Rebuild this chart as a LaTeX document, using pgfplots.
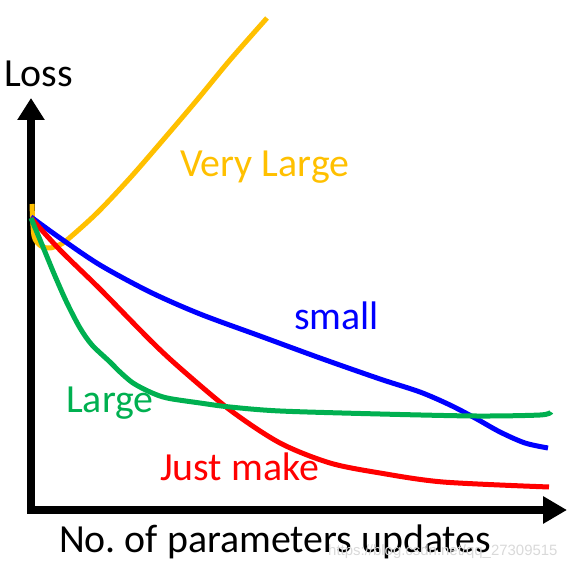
\documentclass[border=0pt]{standalone}
\usepackage{pgfplots}
\pgfplotsset{compat=1.18}
\usepackage{fontspec}
\setmainfont{Carlito}
\newfontfamily\wmfont{Liberation Sans}
\usetikzlibrary{arrows.meta}
\definecolor{cyel}{HTML}{FFC000}
\definecolor{cblue}{HTML}{0000FF}
\definecolor{cgreen}{HTML}{00B050}
\definecolor{cred}{HTML}{FF0000}
\frenchspacing
\begin{document}
\begin{tikzpicture}
\begin{axis}[
  hide axis, scale only axis,
  width=576bp, height=570bp,
  xmin=0, xmax=576, ymin=0, ymax=570, y dir=reverse,
  clip=false,
]
\path (axis cs:0,0) rectangle (axis cs:576,570);
% axes
\draw[line width=8bp, line join=miter, {Triangle[width=26bp,length=24bp]}-{Triangle[width=26bp,length=22bp]}]
  (axis cs:567,510) -- (axis cs:31,510) -- (axis cs:31,98);
% Very Large
\addplot[cyel, line width=5bp, smooth, tension=0.5] coordinates {
 (32,204)(34,236)(41,246)(50,248)(59,245)(67,240)(97,213)(130,178)(163,140)(197,100)(230,60)(267,18)};
% small
\addplot[cblue, line width=5bp, smooth, tension=0.5] coordinates {
 (31,217)(60,238)(100,265)(150,292)(200,314)(260,336)(320,358)(380,379)(420,392)(450,405)(475,418)(500,432)(525,443)(548,448)};
% Just make
\addplot[cred, line width=5bp, smooth, tension=0.5] coordinates {
 (31,218)(60,250)(100,289)(150,340)(180,368)(230,410)(280,443)(330,463)(380,473)(443,482)(549,487)};
% Large
\addplot[cgreen, line width=5bp, smooth, tension=0.5] coordinates {
 (31,218)(43,247)(55,276)(67,303)(80,328)(92,345)(110,362)(120,372)(133,383)(150,392)(167,398)(200,403)(230,407)(280,411)(380,414)(476,416)(540,415)(551,412)};
% labels
\node[anchor=base west, inner sep=0pt, font=\fontsize{40}{46}\selectfont] at (axis cs:4,87) {Loss};
\node[anchor=base west, inner sep=0pt, font=\fontsize{40}{46}\selectfont] at (axis cs:59,553) {No. of parameters updates};
\node[anchor=base west, inner sep=0pt, text=cyel, font=\fontsize{40}{46}\selectfont] at (axis cs:180,177) {Very Large};
\node[anchor=base west, inner sep=0pt, text=cblue, font=\fontsize{40}{46}\selectfont] at (axis cs:294,330) {small};
\node[anchor=base west, inner sep=0pt, text=cgreen, font=\fontsize{40}{46}\selectfont] at (axis cs:66,413) {Large};
\node[anchor=base west, inner sep=0pt, text=cred, font=\fontsize{40}{46}\selectfont] at (axis cs:160,481) {Just make};
\node[anchor=base west, inner sep=0pt, text=gray!30, font=\wmfont\fontsize{15}{18}\selectfont] at (axis cs:328,556) {https://blog.csdn.net/qq\_27309515};
\end{axis}
\end{tikzpicture}
\end{document}
